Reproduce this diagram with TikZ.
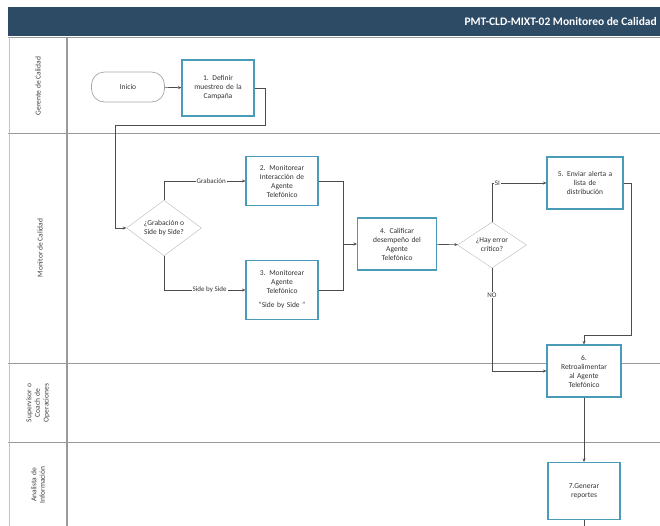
\documentclass[tikz,border=0pt]{standalone}
\usepackage{fontspec}
\setmainfont{Carlito}
\usetikzlibrary{arrows.meta,positioning,shapes.geometric}
\definecolor{hdrblue}{HTML}{2E4B66}
\definecolor{boxteal}{HTML}{4A9BB8}
\definecolor{lanegray}{HTML}{9A9A9A}

\begin{document}
\begin{tikzpicture}[x=1pt,y=-1pt,>={Stealth[length=3.5pt,width=3pt]},
  act/.style={draw=boxteal,line width=1.1pt,fill=white,align=center,minimum width=73pt,minimum height=52pt,text width=70pt,inner sep=1pt,text=black!80,font=\fontsize{7.5}{9}\selectfont},
  dec/.style={diamond,draw=gray!55,fill=white,align=center,inner sep=0pt,text=black!80,font=\fontsize{7.5}{9}\selectfont},
  lane/.style={rotate=90,align=center,text=black!75,font=\fontsize{7.5}{8.6}\selectfont},
  lbl/.style={fill=white,inner sep=1pt,text=black!80,font=\fontsize{7}{7.5}\selectfont},
  ln/.style={draw=black!70,line width=0.6pt},
  flow/.style={ln,->}]
  \clip (0,0) rectangle (660,525);
  % header and swimlanes
  \fill[hdrblue] (8,7) rectangle (665,36);
  \node[anchor=west,text=white,font=\fontsize{11.5}{12}\selectfont\bfseries] (hdr) at (461,22) {PMT-CLD-MIXT-02 Monitoreo de Calidad};
  \draw[lanegray,line width=0.9pt] (8,37)--(665,37) (8,133)--(665,133) (8,363)--(665,363) (8,442)--(665,442);
  \draw[lanegray,line width=1.1pt] (67,37)--(67,530);
  \draw[lanegray!60,line width=0.5pt] (9,37)--(9,530);
  \node[lane] (l1) at (38,86) {Gerente de Calidad};
  \node[lane] (l2) at (40,248) {Monitor de Calidad};
  \node[lane] (l3) at (38,403) {Supervisor o\\Coach de\\Operaciones};
  \node[lane] (l4) at (38,485) {Analista de\\Información};
  % activities
  \node[draw=gray!70,line width=0.7pt,rounded corners=13pt,minimum width=73pt,minimum height=30pt,text=black!80,font=\fontsize{7.5}{8}\selectfont] (ini) at (128,87) {Inicio};
  \node[act,minimum width=70pt,minimum height=56pt] (b1) at (218,88) {1. Definir\\muestreo de la\\Campaña};
  \node[dec,minimum width=75pt,minimum height=53pt] (d1) at (164,228) {¿Grabación o\\Side by Side?};
  \node[act,minimum width=71pt,minimum height=49pt] (b2) at (282,181) {2. Monitorear\\Interacción de\\Agente\\Telefónico};
  \node[act,minimum width=71pt,minimum height=59pt] (b3) at (282,290) {3. Monitorear\\Agente\\Telefónico\\[5pt]``Side by Side ''};
  \node[act,minimum width=79pt] (b4) at (397,244) {4. Calificar\\desempeño del\\Agente\\Telefónico};
  \node[dec,minimum width=69pt,minimum height=40pt] (d2) at (492,245) {¿Hay error\\crítico?};
  \node[act,minimum width=76pt] (b5) at (585,183) {5. Enviar alerta a\\lista de\\distribución};
  \node[act,minimum width=74pt] (b6) at (584,371) {6.\\Retroalimentar\\al Agente\\Telefónico};
  \node[act,minimum width=72pt,minimum height=57pt] (b7) at (584,491) {7.Generar\\reportes};
  \coordinate (mrg) at (343,244);
  \coordinate (out) at (584,530);
  % connectors
  \draw[flow](ini)--(b1);
  \draw[flow](b1.east)-|(265,125)-|(115,228)--(d1);
  \draw[flow](d1.north)|-node[lbl,pos=0.79]{Grabación}(b2.west);
  \draw[flow](d1.south)|-node[lbl,pos=0.78]{Side by Side}(b3.west);
  \draw[ln](b2.east)-|(mrg);\draw[ln](b3.east)-|(mrg);\draw[flow](mrg)--(b4);
  \draw[flow](b4)--(d2);
  \draw[flow](d2.north)|-node[lbl,pos=0.55]{SI}(b5.west);
  \draw[flow](d2.south)|-node[lbl,pos=0.13]{NO}(b6.west);
  \draw[flow](b5.east)-|(631,335)-|(b6.north);
  \draw[flow](b6)--(b7);\draw[ln](b7)--(out);
\end{tikzpicture}
\end{document}
